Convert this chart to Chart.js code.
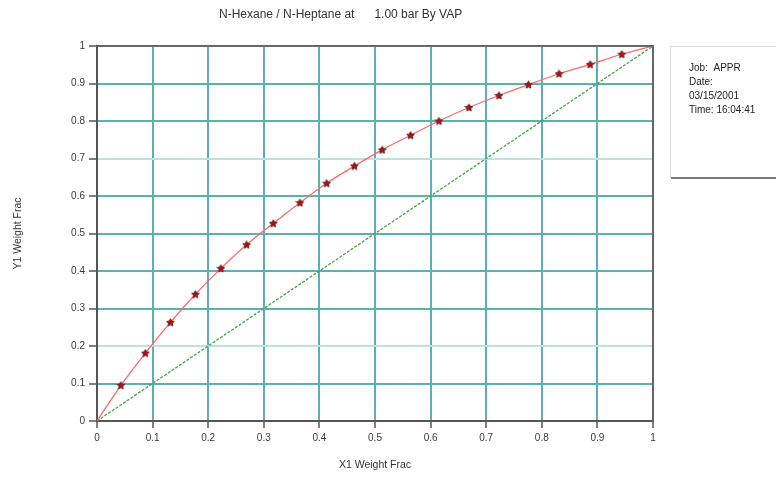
<!DOCTYPE html>
<html>
<head>
<meta charset="utf-8">
<script src="https://cdn.jsdelivr.net/npm/chart.js@4.4.1/dist/chart.umd.min.js"></script>
<style>
html,body{margin:0;padding:0;background:#fff;}
#wrap{position:relative;width:776px;height:477px;}
</style>
</head>
<body>
<div id="wrap"><canvas id="c" width="776" height="477"></canvas></div>
<script>
// ---- data ----
const titleText = "N-Hexane / N-Heptane at      1.00 bar By VAP";
const xAxisTitle = "X1 Weight Frac";
const yAxisTitle = "Y1 Weight Frac";
const infoLines = ["Job:  APPR", "Date:", "03/15/2001", "Time: 16:04:41"];
const x1Values = [0, 0.043, 0.087, 0.132, 0.177, 0.223, 0.269, 0.317, 0.365, 0.413, 0.463, 0.513, 0.564, 0.615, 0.669, 0.723, 0.776, 0.831, 0.887, 0.944, 1];
const y1Values = [0, 0.095, 0.181, 0.263, 0.338, 0.407, 0.470, 0.527, 0.582, 0.634, 0.680, 0.723, 0.762, 0.800, 0.836, 0.868, 0.897, 0.926, 0.951, 0.978, 1];
const diagX = [0, 1];
const diagY = [0, 1];
const tickValues = [0, 0.1, 0.2, 0.3, 0.4, 0.5, 0.6, 0.7, 0.8, 0.9, 1];

// star marker
function makeStar(){
  const c = document.createElement('canvas');
  c.width = 9; c.height = 9;
  const g = c.getContext('2d');
  g.beginPath();
  for (let i = 0; i < 10; i++) {
    const r = i % 2 === 0 ? 4.0 : 2.0;
    const a = -Math.PI/2 + i*Math.PI/5;
    const px = 4.5 + r*Math.cos(a), py = 4.8 + r*Math.sin(a);
    if (i === 0) g.moveTo(px, py); else g.lineTo(px, py);
  }
  g.closePath();
  g.fillStyle = '#d00000';
  g.fill();
  g.strokeStyle = '#4a3535';
  g.lineWidth = 1;
  g.stroke();
  return c;
}
const star = makeStar();

const curvePts = x1Values.map((x,i)=>({x:x, y:y1Values[i]}));
const diagPts = diagX.map((x,i)=>({x:x, y:diagY[i]}));

const fmt = v => (Math.abs(v) < 1e-9 ? '0' : Math.abs(v-1) < 1e-9 ? '1' : v.toFixed(1));

const TEAL = '#5eafaf';
const LIGHT = '#bfe0e0';
const xGridColors = tickValues.map((v,i)=> (i===0 || i===tickValues.length-1) ? '#666' : TEAL);
const yGridColors = tickValues.map((v,i)=> (i===0 || i===tickValues.length-1) ? '#666' : (i===2 || i===7) ? LIGHT : TEAL);

const extras = {
  id: 'extras',
  afterDraw(chart){
    const ctx = chart.ctx;
    const a = chart.chartArea;
    ctx.save();
    // frame top/right
    ctx.strokeStyle = '#666';
    ctx.lineWidth = 2;
    ctx.beginPath();
    ctx.moveTo(a.left, a.top); ctx.lineTo(a.right, a.top); ctx.lineTo(a.right, a.bottom);
    ctx.stroke();
    // title
    ctx.fillStyle = '#333';
    ctx.font = '12px "Liberation Sans", Arial, sans-serif';
    ctx.textBaseline = 'middle';
    ctx.textAlign = 'left';
    ctx.fillText(titleText, 219, 15);
    // info box
    ctx.fillStyle = '#fff';
    ctx.fillRect(670.5, 46.5, 110, 131);
    ctx.strokeStyle = '#dcdcdc';
    ctx.lineWidth = 1;
    ctx.strokeRect(670.5, 46.5, 110, 131);
    ctx.strokeStyle = '#777';
    ctx.lineWidth = 2;
    ctx.beginPath(); ctx.moveTo(671, 178); ctx.lineTo(776, 178); ctx.stroke();
    ctx.fillStyle = '#222';
    ctx.font = '10px "Liberation Sans", Arial, sans-serif';
    infoLines.forEach((t,i)=> ctx.fillText(t, 689, 68 + i*14));
    ctx.restore();
  }
};

new Chart(document.getElementById('c'), {
  type: 'scatter',
  data: {
    datasets: [
      {
        data: diagPts,
        showLine: true,
        borderColor: '#3fa83f',
        borderWidth: 1.3,
        borderDash: [3, 1.5],
        pointRadius: 0,
        order: 2
      },
      {
        data: curvePts,
        showLine: true,
        borderColor: '#ff6868',
        borderWidth: 1.3,
        cubicInterpolationMode: 'monotone',
        pointStyle: star,
        pointRadius: curvePts.map((p,i)=> (i===0 || i===curvePts.length-1) ? 0 : 4),
        order: 1
      }
    ]
  },
  options: {
    responsive: false,
    animation: false,
    layout: { padding: { top: 46, right: 123, left: 0, bottom: 0 } },
    plugins: { legend: { display: false }, tooltip: { enabled: false } },
    scales: {
      x: {
        type: 'linear', min: 0, max: 1,
        afterFit: s => { s.height = 56; },
        afterBuildTicks: s => { s.ticks = tickValues.map(v => ({ value: v })); },
        ticks: { callback: fmt, color: '#3a3a3a', padding: 4, maxRotation: 0,
                 font: { family: '"Liberation Sans", Arial, sans-serif', size: 10 } },
        grid: {
          color: xGridColors,
          lineWidth: 2,
          tickLength: 7,
          tickColor: '#555',
          tickWidth: 1.5
        },
        border: { color: '#555', width: 2 },
        title: { display: true, text: xAxisTitle, color: '#333', padding: { top: 4, bottom: 6 },
                 font: { family: '"Liberation Sans", Arial, sans-serif', size: 10.5 } }
      },
      y: {
        type: 'linear', min: 0, max: 1,
        afterFit: s => { s.width = 97; },
        afterBuildTicks: s => { s.ticks = tickValues.map(v => ({ value: v })); },
        ticks: { callback: fmt, color: '#3a3a3a', padding: 4,
                 font: { family: '"Liberation Sans", Arial, sans-serif', size: 10 } },
        grid: {
          color: yGridColors,
          lineWidth: 2,
          tickLength: 8,
          tickColor: '#555',
          tickWidth: 1.5
        },
        border: { color: '#555', width: 2 },
        title: { display: true, text: yAxisTitle, color: '#333', padding: { top: 12, bottom: 4 },
                 font: { family: '"Liberation Sans", Arial, sans-serif', size: 10.5 } }
      }
    }
  },
  plugins: [extras]
});
</script>
</body>
</html>
